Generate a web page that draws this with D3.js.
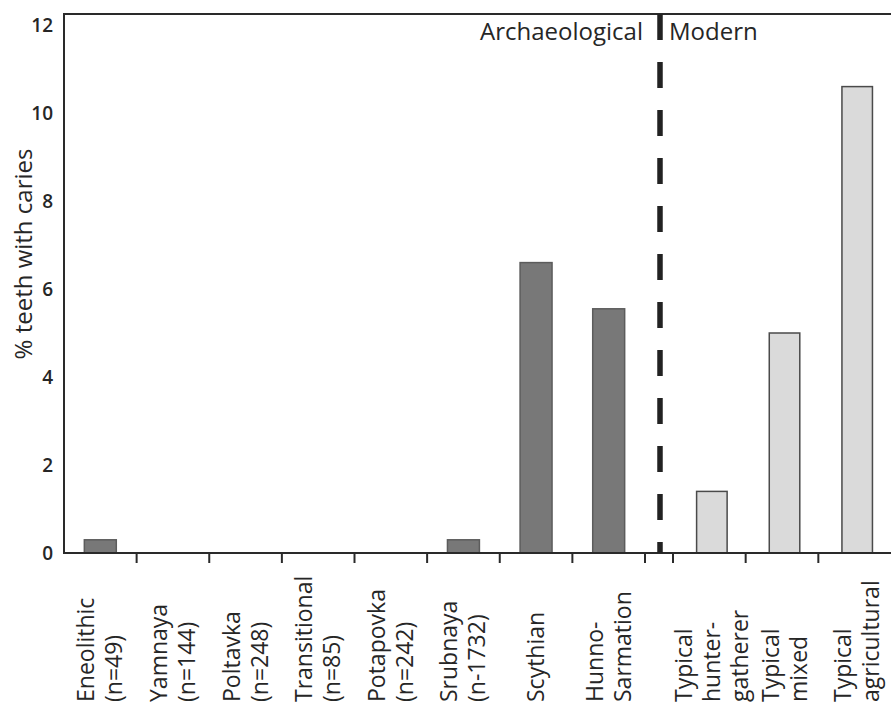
<!DOCTYPE html>
<html>
<head>
<meta charset="utf-8">
<script src="https://cdn.jsdelivr.net/npm/d3@7"></script>
<style>
  body { margin: 0; background: #fff; }
  text { font-family: "Open Sans", "Noto Sans", sans-serif; fill: #262626; }
</style>
</head>
<body>
<div id="chart"></div>
<script>
// ******************** data ********************
const archCategories = [
	["Eneolithic", "(n=49)"],
	["Yamnaya", "(n=144)"],
	["Poltavka", "(n=248)"],
	["Transitional", "(n=85)"],
	["Potapovka", "(n=242)"],
	["Srubnaya", "(n-1732)"],
	["Scythian"],
	["Hunno-", "Sarmation"]
]
const archValues = [0.3, 0, 0, 0, 0, 0.3, 6.6, 5.55]

const modernCategories = [
	["Typical", "hunter-", "gatherer"],
	["Typical", "mixed"],
	["Typical", "agricultural"]
]
const modernValues = [1.4, 5.0, 10.6]

const yTicks = [0, 2, 4, 6, 8, 10, 12]

// ******************** layout ********************
const width = 891
const height = 707
const plotLeft = 64
const plotTop = 14
const plotBottom = 553
const archEnd = 645
const modernStart = 673
const plotRight = 891

const svg = d3.select("#chart")
	.append("svg")
	.attr("width", width)
	.attr("height", height)

const arch = archCategories.map((c, i) => ({ key: "a" + i, lines: c, value: archValues[i], group: "arch" }))
const modern = modernCategories.map((c, i) => ({ key: "m" + i, lines: c, value: modernValues[i], group: "modern" }))

// ******************** scales ********************
const xArch = d3.scaleBand()
	.domain(arch.map(d => d.key))
	.range([plotLeft, archEnd])
	.paddingInner(0.56)
	.paddingOuter(0.28)

const xModern = d3.scaleBand()
	.domain(modern.map(d => d.key))
	.range([modernStart, plotRight])
	.paddingInner(0.58)
	.paddingOuter(0.29)
	.align(0.56)

const yScale = d3.scaleLinear()
	.domain([0, 12])
	.range([plotBottom, plotBottom - 12 * 44])

const xOf = d => d.group == "arch" ? xArch(d.key) : xModern(d.key)
const bwOf = d => d.group == "arch" ? xArch.bandwidth() : xModern.bandwidth()
const centerOf = d => xOf(d) + bwOf(d) / 2

// ******************** bars ********************
const all = arch.concat(modern)

svg.selectAll("rect.bar")
	.data(all.filter(d => d.value > 0))
	.enter()
	.append("rect")
	.attr("class", "bar")
	.attr("x", d => xOf(d))
	.attr("y", d => yScale(d.value))
	.attr("width", d => bwOf(d))
	.attr("height", d => yScale(0) - yScale(d.value))
	.attr("fill", d => d.group == "arch" ? "#787878" : "#dadada")
	.attr("stroke", d => d.group == "arch" ? "#5c5c5c" : "#4a4a4a")
	.attr("stroke-width", 1.5)

// ******************** frame / axes ********************
svg.append("path")
	.attr("d", "M" + plotRight + "," + plotTop + "H" + plotLeft + "V" + plotBottom + "H" + plotRight)
	.attr("fill", "none")
	.attr("stroke", "#2a2a2a")
	.attr("stroke-width", 2)

// y tick labels (no tick marks in the original)
const yAxis = svg.append("g")
	.attr("transform", "translate(" + plotLeft + ",0)")
	.call(d3.axisLeft(yScale).tickValues(yTicks).tickSize(0).tickPadding(11))
yAxis.select(".domain").remove()
yAxis.selectAll("text")
	.style("font-family", "'Open Sans', sans-serif")
	.style("font-size", "19px")
	.style("font-weight", "600")
	.attr("fill", "#333")

// x tick marks between categories
const tickXs = []
const archStep = (archEnd - plotLeft) / arch.length
const modernStep = (plotRight - modernStart) / modern.length
for (let i = 1; i <= arch.length; i++) tickXs.push(plotLeft + i * archStep)
for (let i = 0; i < modern.length; i++) tickXs.push(modernStart + i * modernStep)

svg.selectAll("line.xtick")
	.data(tickXs)
	.enter()
	.append("line")
	.attr("class", "xtick")
	.attr("x1", d => d)
	.attr("x2", d => d)
	.attr("y1", plotBottom)
	.attr("y2", plotBottom + 10)
	.attr("stroke", "#2a2a2a")
	.attr("stroke-width", 2)

// category labels, rotated, reading upward
const lineH = 28
const labels = svg.selectAll("text.cat")
	.data(all)
	.enter()
	.append("text")
	.attr("class", "cat")
	.attr("transform", d => "translate(" + centerOf(d) + "," + 702 + ") rotate(-90)")
	.attr("text-anchor", "start")
	.style("font-size", "23px")

labels.each(function(d) {
	const k = d.lines.length
	d.lines.forEach((line, i) => {
		d3.select(this).append("tspan")
			.attr("x", 0)
			.attr("y", (i - (k - 1) / 2) * lineH + 8)
			.text(line)
	})
})

// y axis title
svg.append("text")
	.attr("transform", "translate(32," + 254 + ") rotate(-90)")
	.attr("text-anchor", "middle")
	.style("font-size", "24px")
	.text("% teeth with caries")

// ******************** divider ********************
const divX = (archEnd + modernStart) / 2 + 1
svg.append("line")
	.attr("x1", divX)
	.attr("x2", divX)
	.attr("y1", plotTop)
	.attr("y2", plotBottom)
	.attr("stroke", "#222")
	.attr("stroke-width", 5.5)
	.attr("stroke-dasharray", "26,22")

svg.append("text")
	.attr("x", divX - 17)
	.attr("y", 40)
	.attr("text-anchor", "end")
	.style("font-size", "24px")
	.text("Archaeological")

svg.append("text")
	.attr("x", divX + 9)
	.attr("y", 40)
	.attr("text-anchor", "start")
	.style("font-size", "24px")
	.text("Modern")
</script>
</body>
</html>
